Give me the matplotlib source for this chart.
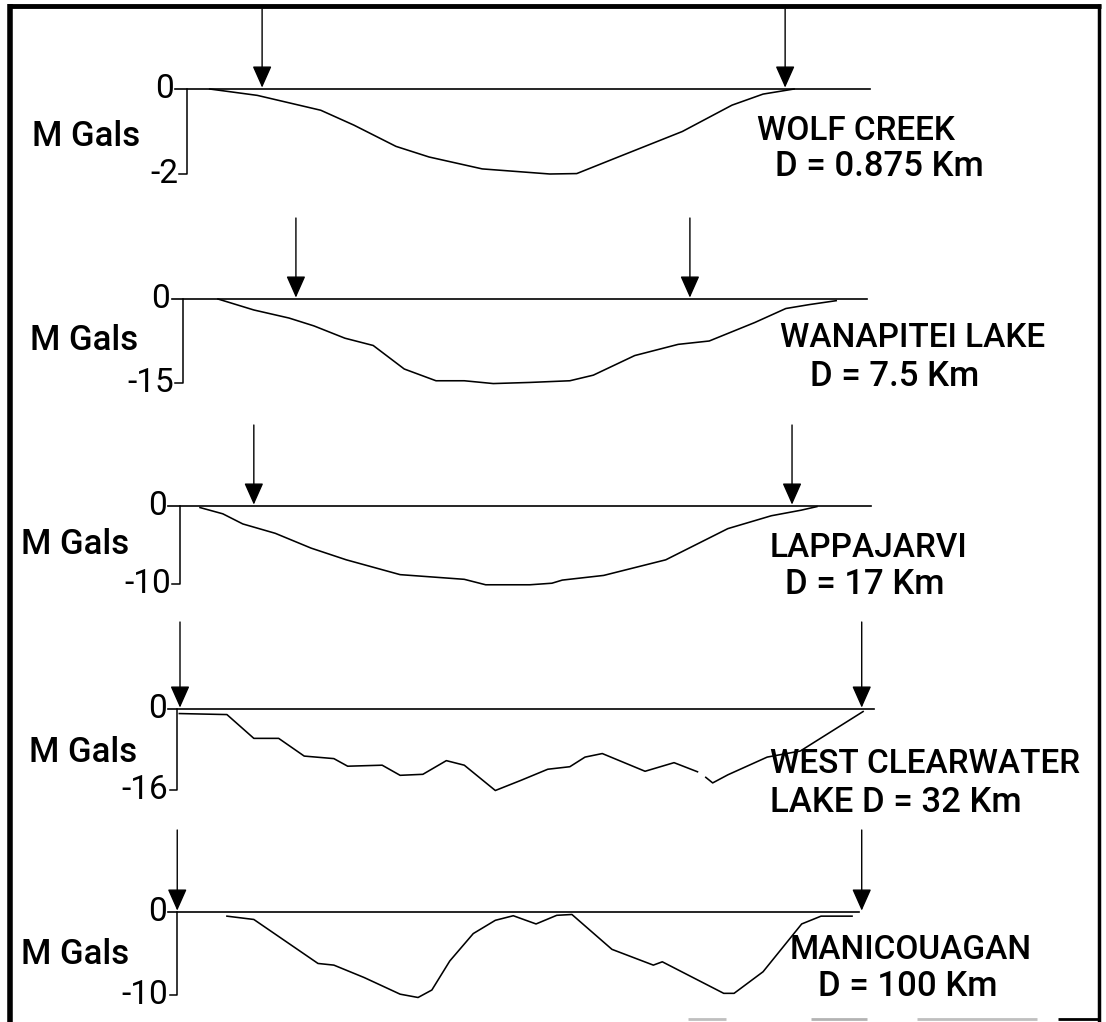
import matplotlib.pyplot as plt
import numpy as np

W, H = 1106, 1022
plt.rcParams['font.family'] = ['Roboto', 'DejaVu Sans']

# crater names, diameter labels and vertical scale (mGal) of each profile
names = ['WOLF CREEK', 'WANAPITEI LAKE', 'LAPPAJARVI', 'WEST CLEARWATER', 'MANICOUAGAN']
diam_labels = ['D = 0.875 Km', 'D = 7.5 Km', 'D = 17 Km', 'LAKE D = 32 Km', 'D = 100 Km']
y_min = [-2, -15, -10, -16, -10]
y_min_labels = ['-2', '-15', '-10', '-16', '-10']

# gravity profiles: distance along profile (arbitrary units), anomaly (mGal)
wolf_x = [4.3, 11.2, 20.4, 25.2, 31.3, 36.1, 43.8, 53.6, 57.5, 63.2, 72.8, 80.0, 84.5, 89.0]
wolf_y = [0, -0.15, -0.5, -0.85, -1.35, -1.6, -1.88, -2.0, -1.99, -1.62, -1.0, -0.38, -0.12, 0]

wana_x = [5.5, 10.7, 15.8, 19.4, 23.9, 28.0, 32.5, 37.1, 41.2, 45.4, 50.7, 56.5, 59.9,
          65.9, 72.2, 76.7, 83.3, 87.8, 91.2, 95.1]
wana_y = [0, -1.96, -3.4, -4.8, -7.0, -8.3, -12.5, -14.6, -14.6, -15.1, -14.9, -14.6, -13.6,
          -10.1, -8.1, -7.5, -4.2, -1.7, -1.0, -0.3]

lapp_x = [2.9, 6.2, 9.1, 13.8, 19.0, 24.1, 31.9, 41.2, 44.3, 50.7, 53.9, 55.4, 61.4,
          70.4, 79.4, 85.7, 90.0, 92.3]
lapp_y = [-0.2, -1.0, -2.3, -3.5, -5.4, -6.9, -8.8, -9.4, -10.1, -10.1, -9.9, -9.5, -8.9,
          -6.9, -2.9, -1.25, -0.54, -0.08]

clear_x = [-0.1, 6.8, 10.7, 14.3, 18.0, 22.3, 24.3, 29.3, 31.9, 35.2, 38.6, 41.2, 45.7,
           49.4, 53.3, 56.5, 58.7, 61.2, 67.4, 71.6, 75.0, np.nan, 76.2, 77.2, 79.4,
           85.1, 89.9, 99.0]
clear_y = [-0.9, -1.1, -5.8, -5.8, -9.3, -9.8, -11.3, -11.1, -13.1, -12.9, -10.2, -11.1, -16.1,
           -14.1, -11.9, -11.4, -9.5, -8.8, -12.3, -10.6, -12.4, np.nan, -13.5, -14.6, -13.0,
           -9.5, -8.3, -0.5]

mani_x = [6.8, 10.7, 20.0, 22.3, 26.7, 31.9, 34.5, 36.5, 39.1, 42.5, 45.7, 48.3, 51.6,
          54.6, 56.8, 62.6, 68.6, 69.9, 78.8, 80.3, 84.5, 90.1, 92.9, 97.4]
mani_y = [-0.5, -0.9, -6.2, -6.4, -7.9, -9.9, -10.3, -9.4, -5.9, -2.6, -1.0, -0.45, -1.44,
          -0.4, -0.3, -4.5, -6.4, -6.0, -9.8, -9.8, -7.2, -1.44, -0.5, -0.5]

profiles = [(wolf_x, wolf_y), (wana_x, wana_y), (lapp_x, lapp_y),
            (clear_x, clear_y), (mani_x, mani_y)]

# crater rim positions (arrows)
rims = [(11.9, 87.7), (16.8, 73.9), (10.7, 88.7), (0.0, 98.8), (-0.4, 98.8)]

# layout in pixels: zero line, bottom tick, top of arrows
base_px = [89, 299, 506, 709, 912]
bottom_px = [174, 383, 584, 790, 995]
arrow_top_px = [9, 218, 425, 622, 830]
# axis bracket x, zero line start/end (profile units)
axis_x = [1.0, 0.4, 0.0, -0.4, -0.4]
line_start = [-0.7, -1.2, -1.7, -1.7, -1.7]
line_end = [100.0, 99.6, 100.1, 100.6, 98.4]
# text positions in pixels
mgal_pos = [(32, 137), (30, 340), (21, 545), (29, 752), (21, 955)]
name_pos = [(757, 131), (780, 338), (770, 548), (770, 764), (790, 950)]
diam_pos = [(775, 167), (810, 377), (785, 584), (770, 803), (818, 986)]

x0_px, ppu = 180, 6.9
txt = dict(fontweight='medium')

fig = plt.figure(figsize=(W / 100, H / 100), dpi=100)

# background axes in pixel coordinates for frame and labels
bg = fig.add_axes([0, 0, 1, 1])
bg.set_xlim(0, W)
bg.set_ylim(H, 0)
bg.axis('off')
bg.plot([10, 10], [4, H], color='black', lw=4, solid_capstyle='butt')
bg.plot([8, 1101], [6, 6], color='black', lw=3.5, solid_capstyle='butt')
bg.plot([1099, 1099], [4, H], color='black', lw=2.5, solid_capstyle='butt')
for a, b, c in [(688, 726, '0.75'), (811, 867, '0.7'), (917, 1037, '0.75'), (1058, 1100, 'black')]:
    bg.plot([a, b], [1019, 1019], color=c, lw=2, solid_capstyle='butt')

for i in range(5):
    base, bot = base_px[i], bottom_px[i]
    ax = fig.add_axes([0, 1 - bot / H, 1, (bot - base) / H])
    ax.set_xlim(-x0_px / ppu, (W - x0_px) / ppu)
    ax.set_ylim(y_min[i], 0)
    ax.axis('off')

    # zero line and bracket axis
    ax.plot([line_start[i], line_end[i]], [0, 0], color='black', lw=1.2, clip_on=False)
    ax.plot([axis_x[i], axis_x[i], axis_x[i] - 1.1], [0, y_min[i], y_min[i]],
            color='black', lw=1.1, clip_on=False)

    # gravity profile
    px, py = profiles[i]
    ax.plot(px, py, color='black', lw=1.15, clip_on=False)

    # rim arrows
    for xa in rims[i]:
        ax.annotate('', xy=(xa, 0), xytext=(0, base - arrow_top_px[i]),
                    textcoords='offset pixels', annotation_clip=False,
                    arrowprops=dict(arrowstyle='-|>,head_length=1.35,head_width=0.6',
                                    mutation_scale=10, color='black', lw=1.0,
                                    shrinkA=0, shrinkB=1))

    # tick labels
    ax.text(line_start[i] - 0.2, 0, '0', ha='right', va='center', fontsize=24)
    ax.text(axis_x[i] - 1.3, y_min[i], y_min_labels[i], ha='right', va='center',
            fontsize=24)

    bg.text(*mgal_pos[i], 'M Gals', ha='left', va='center', fontsize=25, **txt)
    bg.text(*name_pos[i], names[i], ha='left', va='center', fontsize=24, **txt)
    bg.text(*diam_pos[i], diam_labels[i], ha='left', va='center', fontsize=25, **txt)

fig.savefig('out.png', dpi=100)
